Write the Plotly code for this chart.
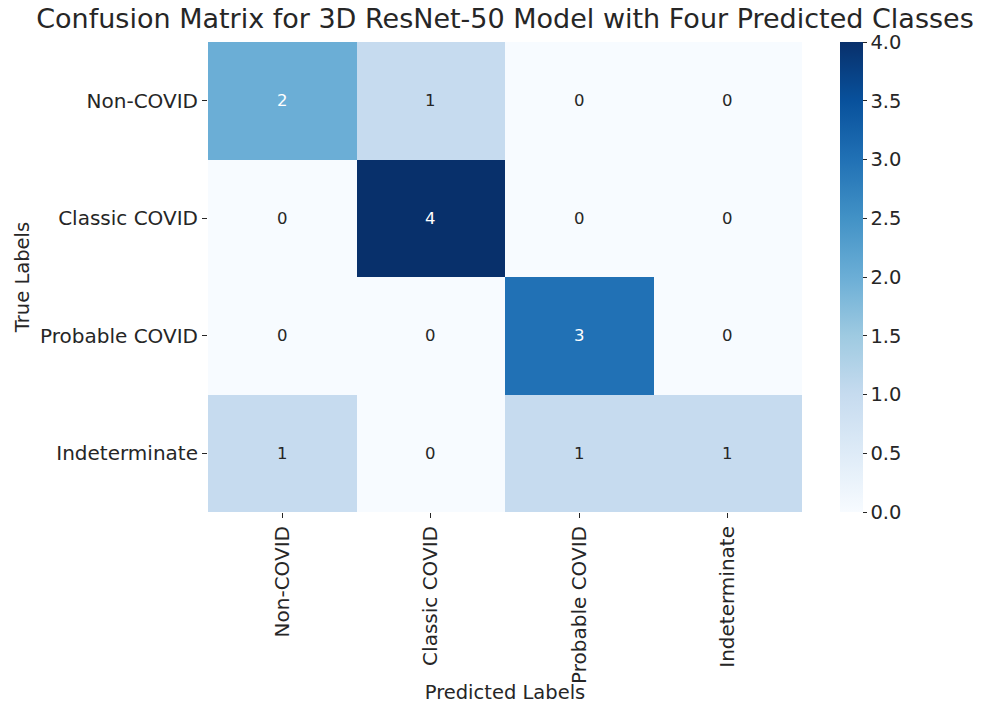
import plotly.graph_objects as go
import plotly.express as px

# Confusion matrix counts (rows = true class, columns = predicted class)
class_names = ["Non-COVID", "Classic COVID", "Probable COVID", "Indeterminate"]
row_non_covid = [2, 1, 0, 0]
row_classic = [0, 4, 0, 0]
row_probable = [0, 0, 3, 0]
row_indeterminate = [1, 0, 1, 1]
counts = [row_non_covid, row_classic, row_probable, row_indeterminate]

cbar_ticks = [0.0, 0.5, 1.0, 1.5, 2.0, 2.5, 3.0, 3.5, 4.0]

FONT = "DejaVu Sans"
INK = "#262626"
blues = px.colors.sequential.Blues

vmax = max(max(r) for r in counts)
vmin = min(min(r) for r in counts)

fig = go.Figure(
    go.Heatmap(
        z=counts,
        x=class_names,
        y=class_names,
        colorscale=blues,
        zmin=vmin,
        zmax=vmax,
        xgap=0,
        ygap=0,
        hoverongaps=False,
        colorbar=dict(
            x=1.064,
            xanchor="left",
            y=0.5,
            yanchor="middle",
            len=1.0,
            lenmode="fraction",
            thickness=23,
            thicknessmode="pixels",
            outlinewidth=0,
            tickvals=cbar_ticks,
            ticktext=[f"{v:.1f}" for v in cbar_ticks],
            ticks="outside",
            ticklen=4,
            tickcolor=INK,
            tickfont=dict(family=FONT, size=19.5, color=INK),
            xpad=0,
            ypad=0,
        ),
    )
)

# cell value labels: light text on dark cells, dark text on light cells
for i, row in enumerate(counts):
    for j, v in enumerate(row):
        frac = (v - vmin) / (vmax - vmin) if vmax > vmin else 0
        fig.add_annotation(
            x=class_names[j],
            y=class_names[i],
            text=str(v),
            showarrow=False,
            font=dict(family=FONT, size=16.5, color="white" if frac > 0.4 else INK),
        )

fig.update_layout(
    width=989,
    height=704,
    margin=dict(l=208, r=187, t=42, b=192),
    paper_bgcolor="white",
    plot_bgcolor="white",
    font=dict(family=FONT, color=INK),
    title=dict(
        text="Confusion Matrix for 3D ResNet-50 Model with Four Predicted Classes",
        x=0.5,
        xref="paper",
        xanchor="center",
        y=1 - 19 / 704,
        yanchor="middle",
        font=dict(family=FONT, size=27, color=INK),
    ),
    xaxis=dict(
        title=dict(text="Predicted Labels", font=dict(family=FONT, size=19.5, color=INK), standoff=4),
        tickangle=-90,
        ticks="outside",
        ticklen=5,
        tickcolor=INK,
        tickfont=dict(family=FONT, size=20, color=INK),
        showgrid=False,
        zeroline=False,
        showline=False,
        automargin=False,
    ),
    yaxis=dict(
        title=dict(text="True Labels", font=dict(family=FONT, size=19.5, color=INK), standoff=5),
        autorange="reversed",
        ticks="outside",
        ticklen=5,
        tickcolor=INK,
        tickfont=dict(family=FONT, size=20, color=INK),
        showgrid=False,
        zeroline=False,
        showline=False,
        automargin=False,
    ),
)

fig.write_html("out.html")
